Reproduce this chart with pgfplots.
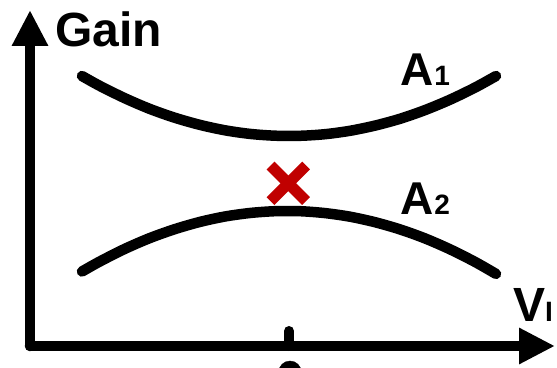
\documentclass[border=0pt]{standalone}
\usepackage{pgfplots}
\pgfplotsset{compat=1.18}
\usetikzlibrary{arrows.meta}
\usepackage{fontspec}
\setmainfont{Liberation Sans}
\definecolor{xred}{HTML}{C00000}
\begin{document}
\begin{tikzpicture}[x=1pt,y=1pt]
\useasboundingbox (0,0) rectangle (557,367);
\begin{axis}[
  at={(30pt,21pt)}, anchor=south west,
  scale only axis, width=525pt, height=336pt,
  xmin=30, xmax=555, ymin=21, ymax=357,
  axis lines=left,
  axis line style={line width=10.5pt, line cap=round, line join=round, -{Triangle[length=36pt,width=34pt]}},
  xtick={289}, xticklabels={}, ytick=\empty,
  tick align=inside, major tick length=15pt,
  xtick style={line width=10pt, line cap=round, black},
  clip=false,
]
\addplot[black, line width=10.5pt, line cap=round, smooth] coordinates {
 (82,291.0) (100,281.0) (125,268.7) (150,258.0) (175,249.2) (200,242.1) (225,236.7) (250,233.1) (275,231.3)
 (300,231.2) (325,232.8) (350,236.2) (375,241.4) (400,248.2) (425,256.9) (450,267.3) (475,279.4) (496,291.0)};
\addplot[black, line width=10.5pt, line cap=round, smooth] coordinates {
 (82,95.5) (100,105.6) (125,118.2) (150,129.0) (175,137.9) (200,145.1) (225,150.5) (250,154.0) (275,155.8)
 (300,155.8) (325,153.9) (350,150.3) (375,144.8) (400,137.6) (425,128.6) (450,117.7) (475,105.1) (496,93.1)};
\addplot[xred, line width=11pt] coordinates {(270.5,201.5) (306.1,165.9)};
\addplot[xred, line width=11pt] coordinates {(270.5,165.9) (306.1,201.5)};
\addplot[black, only marks, mark=*, mark size=11.3pt] coordinates {(290,-5.3)};
\node[anchor=base west, inner sep=0pt, font=\fontsize{48}{48}\selectfont\bfseries] at (axis cs:55,320) {Gain};
\node[anchor=base west, inner sep=0pt, font=\fontsize{46}{46}\selectfont\bfseries] at (axis cs:400,281) {A\kern1pt\fontsize{28}{28}\selectfont 1};
\node[anchor=base west, inner sep=0pt, font=\fontsize{46}{46}\selectfont\bfseries] at (axis cs:400,152) {A\kern1pt\fontsize{28}{28}\selectfont 2};
\node[anchor=base west, inner sep=0pt, font=\fontsize{48}{48}\selectfont\bfseries] at (axis cs:513,45) {V\fontsize{28}{28}\selectfont I};
\end{axis}
\end{tikzpicture}
\end{document}
